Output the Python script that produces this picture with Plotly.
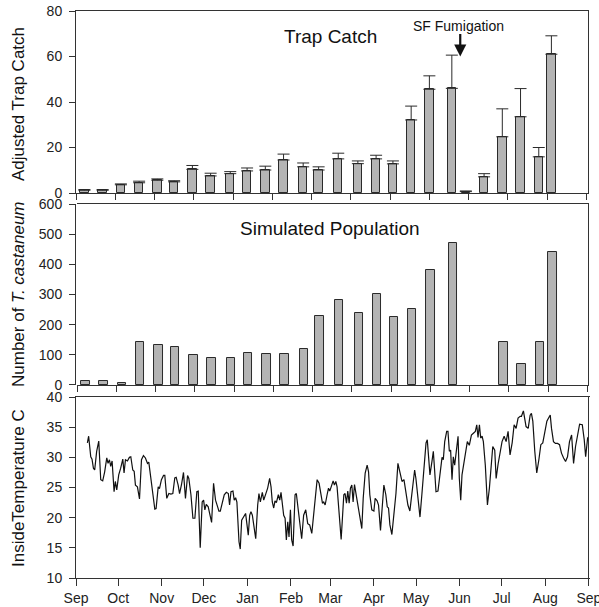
import pandas as pd
import plotly.graph_objects as go

# ---------------- data ----------------
sample_dates = ["2008-09-07", "2008-09-20", "2008-10-03", "2008-10-16", "2008-10-29",
                "2008-11-10", "2008-11-23", "2008-12-06", "2008-12-20", "2009-01-01",
                "2009-01-14", "2009-01-27", "2009-02-10", "2009-02-21", "2009-03-07",
                "2009-03-21", "2009-04-03", "2009-04-15", "2009-04-28", "2009-05-11",
                "2009-05-27", "2009-06-06", "2009-06-19", "2009-07-02", "2009-07-15",
                "2009-07-28", "2009-08-06"]
trap_catch = [1.2, 1.2, 3.6, 4.5, 5.6, 4.9, 10.4, 7.5, 8.5, 9.7, 10.1, 14.5, 11.5, 10.1,
              15.0, 12.9, 15.0, 12.8, 32.1, 45.6, 46.0, 0.6, 7.1, 24.7, 33.5, 15.9, 61.0]
trap_err = [0.3, 0.3, 0.4, 0.7, 0.6, 0.5, 1.7, 1.2, 0.9, 1.3, 1.7, 2.6, 1.7, 1.4,
            2.5, 1.2, 1.6, 1.3, 6.1, 5.9, 14.6, 0.3, 1.4, 12.3, 12.4, 4.1, 8.1]
sim_pop = [14, 13, 7, 142, 134, 127, 101, 90, 91, 106, 104, 102, 118, 229, 282, 238,
           302, 227, 251, 381, 470, None, None, 144, 70, 141, 442]

temp_day = [8.1, 9, 10.5, 11.4, 12.4, 13.3, 14.7, 16.2, 17.6, 19, 20.4, 21.9, 22.8, 23.8, 24.7,
            25.7, 27.1, 28, 29, 30.4, 31.8, 33.3, 34.2, 35.2, 36.6, 38, 39, 40.4, 41.4, 42.3,
            43.7, 45.2, 46.6, 48, 49.4, 50.9, 51.8, 53.2, 54.7, 56.1, 57, 58.5, 59.4, 60.8, 62.3,
            63.2, 64.6, 66.1, 67.5, 68.9, 70.3, 71.3, 72.7, 73.7, 75.1, 76.5, 77.9, 79.4, 80.3, 81.8,
            83.2, 84.6, 86, 87, 88.4, 89.8, 90.8, 91.7, 92.7, 94.1, 95.1, 96.5, 97.9, 99.3, 100.8,
            101.7, 102.7, 104.1, 105.5, 107, 108.4, 109.3, 110.3, 111.7, 112.6, 113.6, 114.5, 116,
            116.9, 117.9, 119.3, 120.7, 121.7, 122.6, 123.6, 124.5, 125.5, 126.4, 127.9, 129.3,
            130.2, 131.2, 132.6, 133.6, 135, 136.4, 137.8, 138.8, 139.7, 140.7, 141.6, 142.6, 144,
            145, 145.9, 146.9, 147.8, 148.8, 149.7, 150.7, 151.6, 152.6, 153.5, 154.5, 155.9,
            156.8, 157.8, 159.2, 160.6, 162, 163.5, 164.9, 166.3, 167.8, 169.2, 170.6, 171.6, 173,
            174.4, 175.4, 176.3, 177.3, 178.7, 179.7, 180.6, 182, 183, 183.9, 184.9, 185.8, 187.3,
            188.7, 189.6, 190.6, 191.5, 192.5, 193.4, 194.4, 195.3, 196.3, 197.2, 198.2, 199.6,
            201, 202.5, 203.4, 204.4, 205.8, 207.2, 208.2, 209.1, 210.5, 212, 212.9, 214.3, 215.3,
            216.7, 217.7, 219.1, 220.5, 221.5, 222.4, 223.4, 224.8, 226.2, 227.7, 229.1, 230.5,
            232, 233.4, 234.8, 236.2, 237.6, 238.6, 240, 241, 241.9, 243.3, 244.8, 246.2, 247.6,
            249.1, 250, 251, 251.9, 253.3, 254.3, 255.2, 256.2, 257.6, 259, 260.5, 261.4, 262.4,
            263.8, 264.7, 265.7, 266.6, 267.6, 268.5, 269.5, 270.9, 271.9, 272.8, 273.8, 274.7,
            275.7, 277.1, 278.5, 279.9, 281.4, 282.8, 284.2, 285.2, 286.1, 287.1, 288, 289, 289.9,
            291.3, 292.8, 294.2, 295.6, 296.6, 298, 299, 300.4, 301.8, 303.2, 304.7, 306.1, 307.5,
            308.9, 310.4, 311.8, 313.2, 314.6, 316.1, 317, 318.4, 319.4, 320.3, 321.8, 323.2,
            324.1, 325.1, 326.5, 327.9, 329.4, 330.8, 332.2, 333.6, 335.1, 336.5, 337.5, 338.4,
            339.8, 341.2, 342.7, 344.1, 345.5, 347, 348.4, 349.8, 351.2, 352.7, 354.1, 355.5,
            356.9, 358.4, 360.3, 361.7, 362.7, 364.1, 365.3]
temp_c = [32.4, 33.5, 30.1, 29.7, 28.2, 27.9, 31, 32.7, 26.3, 26.1, 27.6, 29.9, 29, 29.6, 28.5,
          29.4, 24.3, 26, 24.6, 27.1, 28.2, 29.7, 27.4, 29.6, 29.4, 30, 30.1, 27.9, 27.7, 25.4,
          25.1, 23.1, 29.6, 30.3, 29.9, 29, 29.2, 26.5, 23.2, 21.4, 21.5, 25.1, 24.8, 26.3, 27,
          27, 23.2, 24, 23.9, 24, 26.6, 26.7, 25.4, 24, 25.5, 27.5, 23.2, 27, 26.5, 23.8,
          19.9, 19.9, 24.3, 24.4, 15, 22.6, 22.9, 21.3, 22.2, 21.8, 20.7, 19.2, 25.7, 22.9, 21.8,
          21.1, 21.1, 22.4, 23.8, 24.2, 24, 22.1, 24.3, 24.4, 22.9, 23.3, 22.6, 16,
          14.8, 19.6, 20.2, 20.7, 18.8, 17.1, 20.4, 21, 20.4, 18.8, 16.5, 22.1,
          24, 22.6, 24.2, 22.9, 23.8, 24.9, 26.5, 25.1, 22.6, 21.6, 22.8, 22.5, 23.8,
          22.9, 24.2, 21.8, 20.4, 19.9, 16.3, 19.3, 16.8, 21.3, 16.3, 15.3, 23.8,
          24, 22.1, 18.8, 16.5, 20.4, 21.3, 19, 18.8, 17.4, 21, 23.8, 26.3, 25.7,
          23.8, 22.4, 22.6, 22.1, 23.8, 24.9, 24.4, 25.4, 26.1, 25.4, 26, 25.1, 21,
          16.4, 19.9, 23.8, 24, 22.4, 24.4, 22.4, 24.9, 25.4, 22.6, 25.5, 23.5,
          21.5, 18.8, 18.2, 23.2, 27.4, 28.7, 27.6, 23.8, 21.3, 21.1, 23.2, 22.8, 22.1,
          17.9, 21.3, 25.4, 23.8, 21.8, 21.6, 18.8, 17.2, 20.4, 24, 29, 27.5,
          26, 26.3, 24, 22.1, 21.1, 23.2, 26.1, 27.9, 26.5, 22.9, 20.1, 24, 28.2,
          32.4, 32.9, 30.4, 27.1, 29.3, 31, 27.9, 24.3, 24.4, 27.4, 30, 29.6, 32.6,
          34.3, 34.3, 31, 31.2, 26.3, 30.1, 28.7, 31.5, 33.5, 26.5, 22.9, 27.1,
          28.7, 30.7, 32.6, 32, 33.7, 34, 34.3, 35.4, 33.3, 35.4, 33.2, 33.5, 32.6,
          28.7, 22.1, 24.9, 28.2, 31.8, 31.2, 26.5, 28.9, 30.9, 32.6, 33.5, 32.6, 34.3,
          30.4, 32.4, 35.4, 34.8, 36.5, 36.8, 36.8, 37.7, 36.5, 35.1, 34.8, 37,
          37.3, 36, 31, 27.4, 29.6, 32.1, 32.4, 34.3, 36, 36.6, 37, 34.8,
          32.6, 32.3, 32.3, 32.1, 30.7, 29.9, 29.3, 30.1, 32.6, 33.7, 29, 31.8,
          33.7, 35.5, 35.4, 32.9, 30.1, 33.2, 33.5]

if len(temp_day) != len(temp_c):
    raise ValueError(f"length mismatch: days={len(temp_day)} temps={len(temp_c)}")

top_ticks = [0, 20, 40, 60, 80]
mid_ticks = [0, 100, 200, 300, 400, 500, 600]
bot_ticks = [10, 15, 20, 25, 30, 35, 40]
month_ticks = ["2008-09-01", "2008-10-01", "2008-11-01", "2008-12-01", "2009-01-01",
               "2009-02-01", "2009-03-01", "2009-04-01", "2009-05-01", "2009-06-01",
               "2009-07-01", "2009-08-01", "2009-09-01"]
month_labels = ["Sep", "Oct", "Nov", "Dec", "Jan", "Feb", "Mar", "Apr", "May", "Jun",
                "Jul", "Aug", "Sep"]

# ---------------- figure ----------------
base = pd.Timestamp("2008-09-01")
temp_x = [base + pd.to_timedelta(d, unit="D") for d in temp_day]
DAY_MS = 86400000
BAR_W = 6 * DAY_MS
FONT = "Liberation Sans, Arial, sans-serif"
AX = "#333333"

fig = go.Figure()
fig.add_trace(go.Bar(
    x=sample_dates, y=trap_catch, width=BAR_W, xaxis="x", yaxis="y",
    marker=dict(color="#b4b4b4", line=dict(color="#2a2a2a", width=1)),
    error_y=dict(type="data", array=trap_err, arrayminus=[0] * len(trap_err),
                 symmetric=False, color="#2a2a2a", thickness=1, width=6),
    showlegend=False))
fig.add_trace(go.Bar(
    x=sample_dates, y=sim_pop, width=BAR_W, xaxis="x2", yaxis="y2",
    marker=dict(color="#b4b4b4", line=dict(color="#2a2a2a", width=1)),
    showlegend=False))
fig.add_trace(go.Scatter(
    x=temp_x, y=temp_c, mode="lines", xaxis="x3", yaxis="y3",
    line=dict(color="#111111", width=1.2), showlegend=False))

xr = ["2008-09-01", "2009-09-01 02:00"]
common_x = dict(range=xr, type="date", showline=True, linecolor=AX, linewidth=1,
                mirror=True, ticks="outside", tickcolor=AX, showgrid=False,
                zeroline=False, automargin=False, ticklabeloverflow="allow")
common_y = dict(showline=True, linecolor=AX, mirror=True, ticks="outside", ticklen=6,
                tickcolor=AX, showgrid=False, zeroline=False, ticklabelstandoff=4,
                automargin=False, ticklabeloverflow="allow")
fig.update_layout(
    width=599, height=607,
    margin=dict(l=76, r=10, t=11, b=29),
    paper_bgcolor="white", plot_bgcolor="white",
    font=dict(family=FONT, size=14, color="#222222"),
    bargap=0,
    xaxis=dict(**common_x, domain=[0, 0.998], anchor="y", showticklabels=False, ticklen=6,
               tick0="2008-09-01", dtick=28 * DAY_MS),
    xaxis2=dict(**common_x, domain=[0.002, 1.0], anchor="y2", showticklabels=False, ticklen=6,
                tick0="2008-09-01", dtick=28 * DAY_MS),
    xaxis3=dict(**common_x, domain=[0, 1.0], anchor="y3", tickvals=month_ticks,
                ticktext=month_labels, ticklen=7),
    yaxis=dict(**common_y, domain=[0.679, 1.0], range=[0, 80], tickvals=top_ticks),
    yaxis2=dict(**common_y, domain=[0.3404, 0.6596], range=[0, 600], tickvals=mid_ticks),
    yaxis3=dict(**common_y, domain=[0, 0.3192], range=[10, 40], tickvals=bot_ticks),
)

ann = []
# axis titles
for txt, yc in [("Adjusted Trap Catch", (578 - 104) / 567),
                ("Number of <i>T. castaneum</i>", (578 - 294) / 567),
                ("InsideTemperature C", (578 - 488) / 567)]:
    ann.append(dict(text=txt, xref="paper", yref="paper", x=(18 - 76) / 513, y=yc,
                    textangle=-90, showarrow=False, xanchor="center", yanchor="middle",
                    font=dict(size=17, color="#111111")))
ann.append(dict(text="Trap Catch", xref="paper", yref="paper", x=(330 - 76) / 513,
                y=(578 - 36) / 567, showarrow=False, xanchor="center", yanchor="middle",
                font=dict(size=19, color="#111111")))
ann.append(dict(text="Simulated Population", xref="paper", yref="paper", x=(330 - 76) / 513,
                y=(578 - 228) / 567, showarrow=False, xanchor="center", yanchor="middle",
                font=dict(size=19, color="#111111")))
ann.append(dict(text="SF Fumigation", xref="paper", yref="paper", x=(458 - 76) / 513,
                y=(578 - 26) / 567, showarrow=False, xanchor="center", yanchor="middle",
                font=dict(size=14, color="#111111")))
ann.append(dict(text="", xref="x", yref="y", x="2009-06-02", y=60, ax=0, ay=-24,
                showarrow=True, arrowhead=2, arrowsize=1.1, arrowwidth=2.2,
                arrowcolor="#111111"))
fig.update_layout(annotations=ann)

# remove the browser's default 8px page margin so the figure sits at the window corner
fig.write_html("out.html", config={"displayModeBar": False},
               post_script="document.body.style.margin='0';document.body.style.overflow='hidden';")
